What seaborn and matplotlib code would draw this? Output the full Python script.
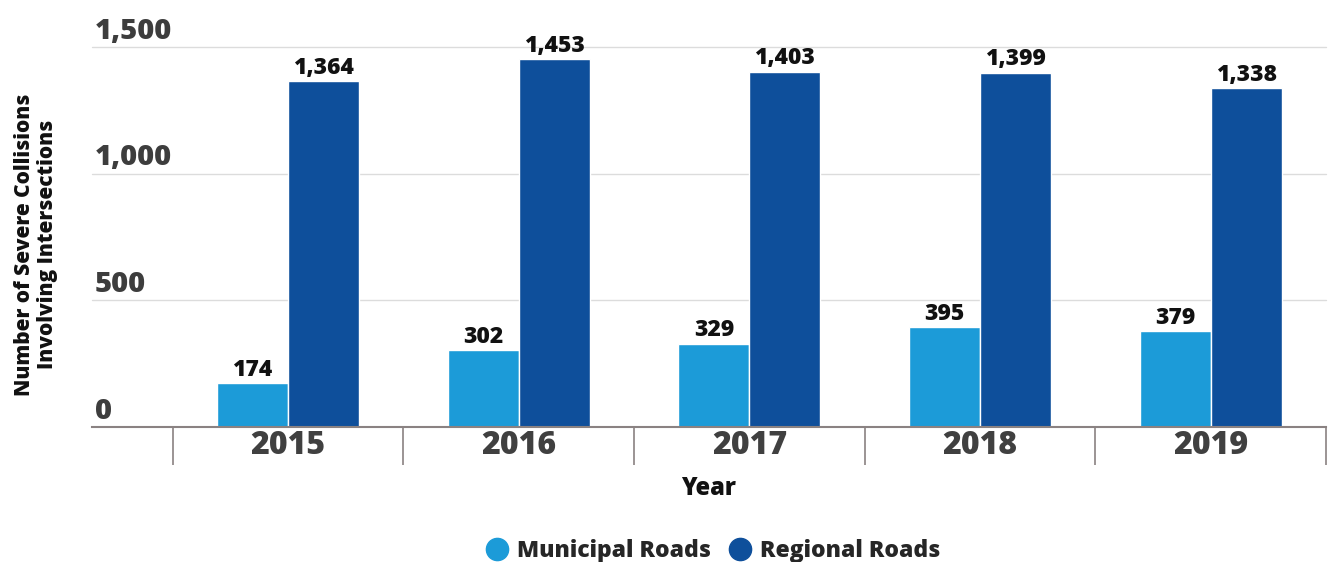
import matplotlib
matplotlib.use("Agg")
import matplotlib.pyplot as plt
from matplotlib.lines import Line2D
import seaborn as sns
import pandas as pd

years = ["2015", "2016", "2017", "2018", "2019"]
municipal = [174, 302, 329, 395, 379]
regional = [1364, 1453, 1403, 1399, 1338]
series_names = ["Municipal Roads", "Regional Roads"]
series_colors = ["#1c9bd8", "#0e4f9b"]
y_ticks = [0, 500, 1000, 1500]

df = pd.DataFrame({
    "Year": years * 2,
    "Road": [series_names[0]] * len(years) + [series_names[1]] * len(years),
    "Count": municipal + regional,
})

sns.set_theme(style="white")
plt.rcParams["font.family"] = ["Open Sans", "DejaVu Sans"]
W = 800

fig = plt.figure(figsize=(13.28, 5.62), dpi=100)
ax = fig.add_axes([0.0693, 0.2402, 0.9292, 0.6762])

sns.barplot(data=df, x="Year", y="Count", hue="Road", order=years,
            hue_order=series_names, palette=series_colors, width=0.615,
            saturation=1, edgecolor="white", linewidth=1.0, ax=ax, legend=False)

ax.set_ylim(0, 1500)
ax.set_xlim(-0.85, 4.5)

# gridlines and y value labels sitting above them
for v in y_ticks[1:]:
    ax.axhline(v, color="#dcdcdc", lw=1.0, zorder=0, clip_on=False)
ax.set_yticks([])
for v in y_ticks:
    ax.annotate(f"{v:,}", xy=(0.0025, v), xycoords=("axes fraction", "data"),
                xytext=(0, 6), textcoords="offset points", ha="left", va="baseline",
                fontsize=21, fontweight=W, color="#3d3d3d")

# value labels over bars
for cont in ax.containers:
    ax.bar_label(cont, labels=[f"{int(b.get_height()):,}" for b in cont],
                 padding=1, fontsize=16.5, fontweight=W, color="#111111")

# category separators below the baseline
ax.set_xticks(range(len(years)))
ax.set_xticklabels(years, fontsize=23, fontweight=W, color="#404040")
ax.set_xticks([i - 0.5 for i in range(len(years) + 1)], minor=True)
ax.tick_params(axis="x", which="major", length=0, pad=2)
ax.tick_params(axis="x", which="minor", length=27, width=1.2, color="#8a8282",
               bottom=True)

for s in ["top", "left", "right"]:
    ax.spines[s].set_visible(False)
ax.spines["bottom"].set_color("#8a8282")
ax.spines["bottom"].set_linewidth(1.5)

ax.set_xlabel("Year", fontsize=17, fontweight=W, color="#111111", va="top")
ax.xaxis.set_label_coords(0.5, -0.128)
ax.set_ylabel("")
fig.text(0.027, 0.565, "Number of Severe Collisions\nInvolving Intersections",
         rotation=90, ha="center", va="center", multialignment="center",
         fontsize=15, fontweight=W, color="#111111", linespacing=1.1)

handles = [Line2D([0], [0], marker="o", linestyle="", markersize=16,
                  markerfacecolor=c, markeredgecolor=c) for c in series_colors]
fig.legend(handles, series_names, loc="lower center", bbox_to_anchor=(0.536, -0.038),
           ncol=2, frameon=False, handletextpad=0.25, columnspacing=0.7,
           handlelength=1.2, prop={"size": 16.5, "weight": W})

fig.savefig("out.png", dpi=100)
